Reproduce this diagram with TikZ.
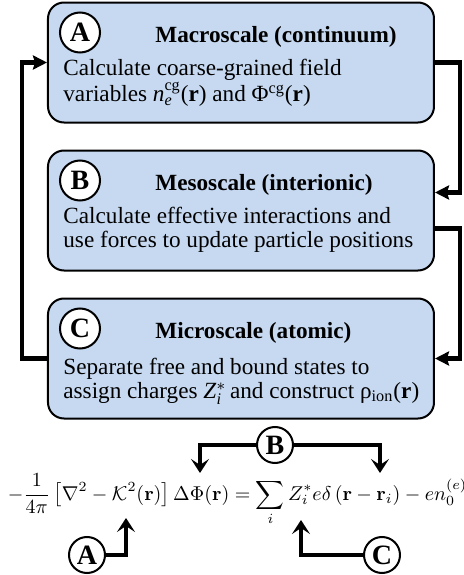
\documentclass[tikz,border=0pt]{standalone}
\usepackage{fix-cm}
\usepackage{amsmath}
\usepackage[no-math]{fontspec}
\setmainfont{Liberation Serif}
\usetikzlibrary{arrows.meta,calc,positioning}
\definecolor{ink}{HTML}{000000}
\definecolor{pale}{HTML}{C6D9F1}
\newcommand{\bodyfont}{\fontsize{11.6}{12}\selectfont}
\tikzset{
  scalebox/.style={draw=ink,fill=pale,rounded corners=8pt,line width=1pt,
    minimum width=193pt,minimum height=60pt,inner sep=0pt},
  tagcircle/.style={circle,draw=ink,fill=white,line width=1pt,inner sep=0pt,
    minimum size=20pt,font=\fontsize{14}{14}\bfseries\selectfont},
  eqcircle/.style={tagcircle,minimum size=18pt},
  headline/.style={anchor=base west,inner sep=0pt,font=\bodyfont\bfseries},
  bodyline/.style={anchor=base west,inner sep=0pt,font=\bodyfont},
  loopline/.style={-{Stealth[length=7pt,width=7pt,inset=1pt]},line width=2.2pt,ink},
  eqarrow/.style={-{Stealth[length=7pt,width=9pt,inset=3pt]},line width=1.6pt,ink},
}

\begin{document}
\begin{tikzpicture}[x=.5pt,y=.5pt]
  \useasboundingbox (0,0) rectangle (464,575);

  % Three scales, stacked from macro to micro.
  \node[scalebox] (boxA) at (241,512.5) {};
  \node[scalebox,below=13pt of boxA] (boxB) {};
  \node[scalebox,below=13pt of boxB] (boxC) {};
  \foreach \b/\head in {A/Macroscale (continuum),B/Mesoscale (interionic),C/Microscale (atomic)}
  {\node[tagcircle] (tag\b) at ($(box\b.north west)+(33,-31)$) {\b};
   \node[headline] (head\b) at ($(box\b.north west)+(108,-41)$) {\head};}

  \node[bodyline] (bodyA1) at ($(boxA.north west)+(16,-74)$)
    {Calculate coarse-grained field};
  \node[bodyline] (bodyA2) at ($(boxA.north west)+(16,-100)$)
    {variables \textit{n}\smash{$^{\text{cg}}_{\textit{e}}$}(\textbf{r}) and Φ\smash{$^{\text{cg}}$}(\textbf{r})};
  \node[bodyline] (bodyB1) at ($(boxB.north west)+(16,-74)$)
    {Calculate effective interactions and};
  \node[bodyline] (bodyB2) at ($(boxB.north west)+(16,-98)$)
    {use forces to update particle positions};
  \node[bodyline] (bodyC1) at ($(boxC.north west)+(16,-77)$)
    {Separate free and bound states to};
  \node[bodyline] (bodyC2) at ($(boxC.north west)+(16,-101)$)
    {assign charges \textit{Z}\smash{$^{*}_{\textit{i}}$}\,and construct ρ$_{\text{ion}}$(\textbf{r})};

  % Feedback loop A -> B -> C -> A.
  \coordinate (inB) at ($(boxB.east)+(0,18)$);
  \coordinate (outB) at ($(boxB.east)+(0,-18)$);
  \draw[loopline] (boxA.east) -- ++(25,0) |- (inB);
  \draw[loopline] (outB) -- ++(25,0) |- (boxC.east);
  \draw[loopline] (boxC.west) -- ++(-25,0) |- (boxA.west);

  % Screened Poisson equation and where each scale enters it.
  \node[anchor=base,inner sep=0pt,font=\fontsize{10}{12}\selectfont] (eqn) at (237.5,75)
    {$\displaystyle -\frac{1}{4\pi}\left[\nabla^2-\mathcal{K}^2(\mathbf{r})\right]\Delta\Phi(\mathbf{r})
      =\sum_i Z_i^*e\delta\left(\mathbf{r}-\mathbf{r}_i\right)-en_0^{(e)}$};
  \node[eqcircle] (eqB) at (275,130) {B};
  \node[eqcircle] (eqA) at (87,20) {A};
  \node[eqcircle] (eqC) at (382,20) {C};
  \coordinate (phiTip) at (200,102);
  \coordinate (deltaTip) at (380,102);
  \coordinate (kappaTip) at (126,57);
  \coordinate (sumTip) at (301,55);
  \draw[eqarrow] (eqB) -| (phiTip);
  \draw[eqarrow] (eqB) -| (deltaTip);
  \draw[eqarrow] (eqA) -| (kappaTip);
  \draw[eqarrow] (eqC) -| (sumTip);
\end{tikzpicture}
\end{document}
